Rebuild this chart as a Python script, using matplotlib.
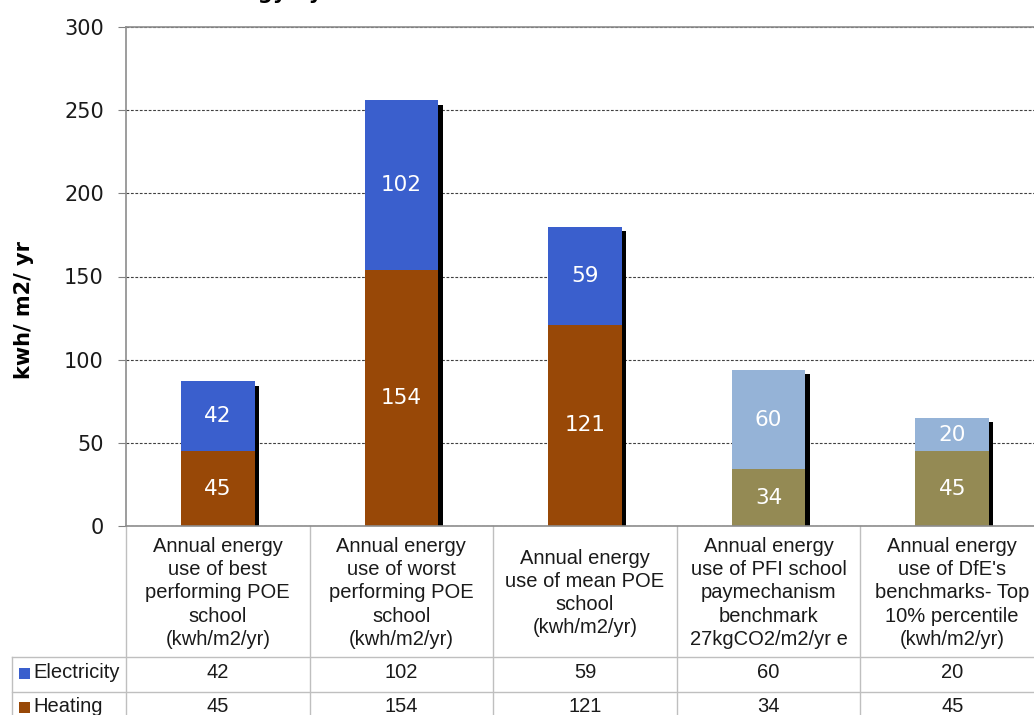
import matplotlib
matplotlib.use('Agg')
import matplotlib.pyplot as plt
from matplotlib.lines import Line2D
from matplotlib.patches import Rectangle
from matplotlib.transforms import ScaledTranslation, blended_transform_factory
import numpy as np

categories = [
    'Annual energy\nuse of best\nperforming POE\nschool\n(kwh/m2/yr)',
    'Annual energy\nuse of worst\nperforming POE\nschool\n(kwh/m2/yr)',
    'Annual energy\nuse of mean POE\nschool\n(kwh/m2/yr)',
    'Annual energy\nuse of PFI school\npaymechanism\nbenchmark\n27kgCO2/m2/yr e',
    "Annual energy\nuse of DfE's\nbenchmarks- Top\n10% percentile\n(kwh/m2/yr)",
]
electricity = [42, 102, 59, 60, 20]
heating = [45, 154, 121, 34, 45]
series_names = ['Electricity', 'Heating']
yticks = [0, 50, 100, 150, 200, 250, 300]

# first three are measured schools, last two are benchmarks
elec_colors = ['#3a5fcd', '#3a5fcd', '#3a5fcd', '#95b3d7', '#95b3d7']
heat_colors = ['#984807', '#984807', '#984807', '#948a54', '#948a54']
grid_gray = '#bfbfbf'

W, H = 1034, 715
fig = plt.figure(figsize=(W / 100, H / 100), dpi=100)
# plot area: x 126..1044 px (runs past the right edge), y 27..526 px
ax = fig.add_axes([126 / W, (H - 526) / H, (1044 - 126) / W, 499 / H])

x = np.arange(len(categories))
totals = np.array(electricity) + np.array(heating)
bw = 0.4

# drop shadow behind each stack
shadow_tr = ax.transData + ScaledTranslation(4.5 / 100, -4.5 / 100, fig.dpi_scale_trans)
ax.bar(x, totals, bw, color='black', transform=shadow_tr, zorder=1.5)
ax.bar(x, heating, bw, color=heat_colors, zorder=2)
ax.bar(x, electricity, bw, bottom=heating, color=elec_colors, zorder=2)

for i in range(len(x)):
    ax.text(x[i], heating[i] / 2, str(heating[i]), color='white', fontsize=15.5,
            ha='center', va='center', zorder=3)
    ax.text(x[i], heating[i] + electricity[i] / 2, str(electricity[i]), color='white',
            fontsize=15.5, ha='center', va='center', zorder=3)

ax.set_xlim(-0.5, 4.5)
ax.set_ylim(0, 300)
ax.set_yticks(yticks)
ax.set_xticks([])
ax.yaxis.grid(True, linestyle=(0, (2.5, 1.5)), color='#404040', linewidth=0.8)
ax.set_axisbelow(True)
ax.tick_params(axis='y', length=6, color='#808080', labelsize=15, pad=10,
               labelcolor='#1a1a1a')
for side in ['left', 'top', 'bottom', 'right']:
    ax.spines[side].set_color('#8c8c8c')
    ax.spines[side].set_linewidth(1.2)
ax.spines['bottom'].set_zorder(4)
ax.set_ylabel('kwh/ m2/ yr', fontsize=15, fontweight='bold')
ax.yaxis.set_label_coords(-0.1, 0.433)

# title, mostly above the top edge of the figure
fig.text(115 / W, 1 + 1 / H, 'Annual energy by source', fontsize=15,
         fontweight='bold', ha='left', va='baseline')

# data table under the plot
tr = blended_transform_factory(ax.transData, ax.transAxes)
def py(p):
    return (526 - p) / 499

row_lines = [657, 692]
bottom = 720
for b in np.arange(-0.5, 5.0, 1.0):
    ax.add_artist(Line2D([b, b], [py(526), py(bottom)], transform=tr, color=grid_gray,
                         lw=1, clip_on=False))
left_x = (12 - 126) / (1044 - 126)
for r in row_lines:
    ax.add_artist(Line2D([left_x, 1.0], [py(r), py(r)], transform=ax.transAxes,
                         color=grid_gray, lw=1, clip_on=False))
ax.add_artist(Line2D([left_x, left_x], [py(657), py(bottom)], transform=ax.transAxes,
                     color=grid_gray, lw=1, clip_on=False))

for i, c in enumerate(categories):
    ax.text(x[i], py(593), c, transform=tr, ha='center', va='center', fontsize=14.5,
            family='Liberation Sans', linespacing=1.27, color='#1a1a1a', clip_on=False)

row_centers = [673, 707]
row_vals = [electricity, heating]
row_marks = [elec_colors[0], heat_colors[0]]
sq = 11
for name, yc, vals, mc in zip(series_names, row_centers, row_vals, row_marks):
    # legend key square in front of the row name
    fig.add_artist(Rectangle((19 / W, (H - yc - sq / 2) / H), sq / W, sq / H,
                             transform=fig.transFigure, color=mc, lw=0))
    fig.text(33 / W, (H - yc) / H, name, fontsize=14.5, family='Liberation Sans',
             ha='left', va='center', color='#1a1a1a')
    for i, v in enumerate(vals):
        ax.text(x[i], py(yc), str(v), transform=tr, ha='center', va='center',
                fontsize=14.5, family='Liberation Sans', color='#1a1a1a', clip_on=False)

fig.savefig('out.png', dpi=100)
